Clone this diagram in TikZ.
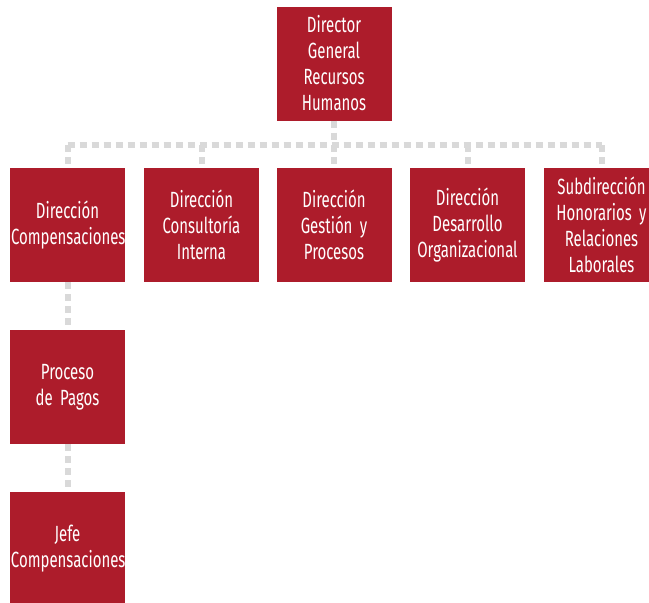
\documentclass[tikz,border=0pt]{standalone}
\usepackage{fontspec}
\setmainfont{Fira Sans}[FakeStretch=0.68]
\usetikzlibrary{positioning}
\definecolor{boxred}{HTML}{AD1C2B}
\definecolor{linkgray}{HTML}{D9D9D9}

% box text: condensed, tight word space
\newcommand{\orgfont}{\fontsize{22}{26}\selectfont\spaceskip=3.5pt\relax}

\tikzset{
  orgbox/.style={fill=boxred, text=white, minimum width=115pt, minimum height=114pt,
    inner sep=0pt, text width=113pt, align=center, font=\orgfont},
  link/.style={linkgray, line width=6pt, dash pattern=on 7pt off 5pt}
}

\begin{document}
\begin{tikzpicture}[x=1pt, y=-1pt]

\useasboundingbox (0,0) rectangle (649,603);
\clip (0,0) rectangle (649,603);

% connectors first
\coordinate (bus) at (334,145);

% boxes
\node[orgbox] (dg) at (334,63.5) {Director\\General\\Recursos\\Humanos};

\node[orgbox] (dc) at (67.5,225) {Dirección\\Compensaciones};
\node[orgbox] (dci) at (201.5,225) {Dirección\\Consultoría\\Interna};
\node[orgbox] (dgp) at (334,225) {Dirección\\Gestión y\\Procesos};
\node[orgbox] (ddo) at (467.5,225) {Dirección\\Desarrollo\\Organizacional};
\node[orgbox] (sh) at (601.5,225) {Subdirección\\Honorarios y\\Relaciones\\Laborales};

\node[orgbox] (pp) at (67.5,387) {Proceso\\de Pagos};
\node[orgbox] (jc) at (67.5,549) {Jefe\\Compensaciones};

% links
\draw[link] (dg.south) -- (bus);
\draw[link] (dc.north |- bus) -- (sh.north |- bus);
\foreach \n in {dc,dci,dgp,ddo,sh}
  \draw[link] (\n.north |- bus) -- (\n.north);
\draw[link] (dc.south) -- (pp.north);
\draw[link] (pp.south) -- (jc.north);

\end{tikzpicture}
\end{document}
